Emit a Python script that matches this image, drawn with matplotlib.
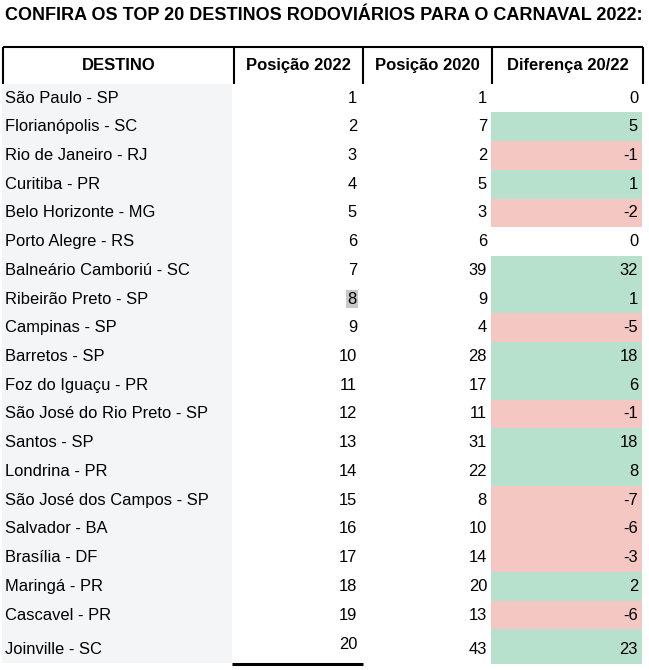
import matplotlib
matplotlib.use('Agg')
import matplotlib.pyplot as plt
from matplotlib.patches import Rectangle

plt.rcParams['font.family'] = ['Liberation Sans', 'DejaVu Sans']

titulo = 'CONFIRA OS TOP 20 DESTINOS RODOVIÁRIOS PARA O CARNAVAL 2022:'
cabecalho = ['DESTINO', 'Posição 2022', 'Posição 2020', 'Diferença 20/22']

destinos = ['São Paulo - SP', 'Florianópolis - SC', 'Rio de Janeiro - RJ', 'Curitiba - PR',
            'Belo Horizonte - MG', 'Porto Alegre - RS', 'Balneário Camboriú - SC',
            'Ribeirão Preto - SP', 'Campinas - SP', 'Barretos - SP', 'Foz do Iguaçu - PR',
            'São José do Rio Preto - SP', 'Santos - SP', 'Londrina - PR',
            'São José dos Campos - SP', 'Salvador - BA', 'Brasília - DF', 'Maringá - PR',
            'Cascavel - PR', 'Joinville - SC']
pos_2022 = [1, 2, 3, 4, 5, 6, 7, 8, 9, 10, 11, 12, 13, 14, 15, 16, 17, 18, 19, 20]
pos_2020 = [1, 7, 2, 5, 3, 6, 39, 9, 4, 28, 17, 11, 31, 22, 8, 10, 14, 20, 13, 43]
diferenca = [0, 5, -1, 1, -2, 0, 32, 1, -5, 18, 6, -1, 18, 8, -7, -6, -3, 2, -6, 23]

W, H = 649, 670
fig = plt.figure(figsize=(W / 100, H / 100), dpi=100)
ax = fig.add_axes([0, 0, 1, 1])
ax.set_xlim(0, W)
ax.set_ylim(H, 0)
ax.axis('off')

# colunas (bordas) e linhas
cols = [3, 234, 363, 492, 643]
topo, base_cab = 47, 83.7
alt = 28.72
ultima = 35

VERDE = '#b7e1cd'
VERMELHO = '#f4c7c3'
FS = 11.9

ax.text(5, 15, titulo, fontsize=12.95, fontweight='bold', va='center', ha='left')

# cabeçalho
ax.plot([cols[0], cols[-1]], [topo, topo], color='black', lw=1.5, solid_capstyle='butt')
for x in cols:
    ax.plot([x, x], [topo, base_cab], color='black', lw=1.5, solid_capstyle='butt')
for i, txt in enumerate(cabecalho):
    ax.text((cols[i] + cols[i + 1]) / 2, 65.5, txt, fontsize=12, fontweight='bold',
            ha='center', va='center')

n = len(destinos)
fundo_fim = base_cab + (n - 1) * alt + ultima
ax.add_patch(Rectangle((2, base_cab), 230, fundo_fim - base_cab - 1,
                       facecolor='#f3f5f6', edgecolor='none'))

for i in range(n):
    y0 = base_cab + i * alt
    h = ultima if i == n - 1 else alt
    yc = y0 + h / 2 + (3 if i == n - 1 else 0)
    d = diferenca[i]
    if d != 0:
        ax.add_patch(Rectangle((491, y0), 151, h, facecolor=VERDE if d > 0 else VERMELHO,
                               edgecolor='none'))
    ax.text(5, yc, destinos[i], fontsize=FS, ha='left', va='center')
    y2 = yc - 5 if i == n - 1 else yc
    kw = {}
    if pos_2022[i] == 8:
        kw['bbox'] = dict(facecolor='#c8c8c8', edgecolor='none', pad=1.0)
    ax.text(357, y2, str(pos_2022[i]), fontsize=FS, ha='right', va='center', **kw)
    ax.text(487, yc, str(pos_2020[i]), fontsize=FS, ha='right', va='center')
    ax.text(638, yc, str(d), fontsize=FS, ha='right', va='center')

ax.plot([232, 363], [fundo_fim, fundo_fim], color='black', lw=2.2, solid_capstyle='butt')

fig.savefig('out.png', dpi=100, facecolor='white')
